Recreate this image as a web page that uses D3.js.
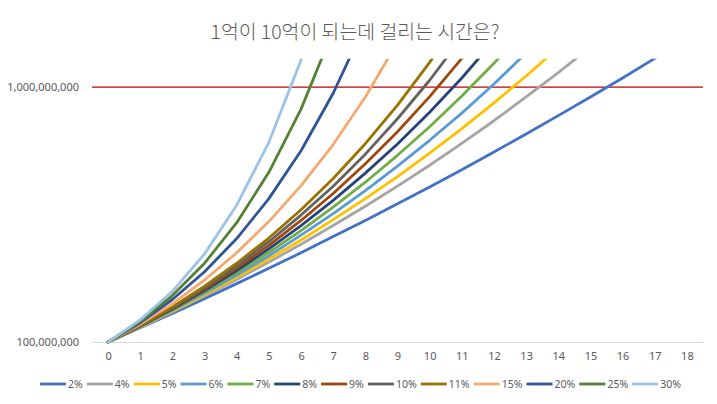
<!DOCTYPE html>
<html><head><meta charset="utf-8">
<script src="https://cdn.jsdelivr.net/npm/d3@7"></script>
<style>
html,body{margin:0;padding:0;background:#fff;}
svg{display:block;}
</style></head>
<body><svg id="chart" width="717" height="404"></svg>
<script>
// ---- data (values in millions of won) ----
const title = "1억이 10억이 되는데 걸리는 시간은?";
const years = [0,1,2,3,4,5,6,7,8,9,10,11,12,13,14,15,16,17,18];
const seriesNames = ["2%","4%","5%","6%","7%","8%","9%","10%","11%","15%","20%","25%","30%"];
const seriesColors = ["#4472C4","#A5A5A5","#FFC000","#5B9BD5","#70AD47","#264478","#9E480E","#636363","#997300","#F4A872","#2F5597","#548235","#9DC3E6"];
const s2  = [100,150,201,253,306,360,415,472,529,588,647,708,771,834,899,965,1032,1101,1171];
const s4  = [100,152,206,262,321,382,445,511,579,650,724,801,881,965,1051,1141,1235];
const s5  = [100,153,209,267,328,393,460,532,606,684,767,853,944,1039,1139,1244];
const s6  = [100,154,211,272,336,404,477,553,634,721,812,908,1011,1120,1235];
const s7  = [100,155,214,277,344,416,493,576,664,759,860,968,1084,1208];
const s8  = [100,156,216,282,352,429,511,600,696,799,911,1032,1163];
const s9  = [100,157,219,287,361,441,529,624,729,842,966,1101,1248];
const s10 = [100,158,222,292,369,454,548,650,763,888,1024,1175];
const s11 = [100,159,224,297,378,467,567,677,800,936,1087,1254];
const s15 = [100,163,235,319,415,525,652,797,965,1158];
const s20 = [100,168,250,348,465,606,775,978,1222];
const s25 = [100,173,264,378,521,699,922,1200];
const s30 = [100,178,279,411,583,805,1095,1471];
const seriesValues = [s2,s4,s5,s6,s7,s8,s9,s10,s11,s15,s20,s25,s30];
const UNIT = 1e6;
const yDomain = [100000000, 1100000000];
const yTicks = [100000000, 1000000000];
const targetLine = 1000000000;

// ---- layout ----
const svg = d3.select("#chart");
const plot = {left:92, right:703, top:58.7, bottom:342};
const font = "'Noto Sans', 'Liberation Sans', sans-serif";
const textColor = "#595959";

const x = d3.scalePoint().domain(years).range([plot.left, plot.right]).padding(0.5);
const y = d3.scaleLinear().domain(yDomain).range([plot.bottom, plot.top]);

// title
svg.append("text").attr("x", 355).attr("y", 39).attr("text-anchor","middle")
  .attr("font-family","'Noto Sans CJK KR', 'Noto Sans', sans-serif").attr("font-size",19.4)
  .attr("font-weight",300)
  .attr("fill",textColor).text(title);

// y axis labels
const yAxis = d3.axisLeft(y).tickValues(yTicks).tickSize(0).tickPadding(13)
  .tickFormat(d3.format(","));
const yg = svg.append("g").attr("transform",`translate(${plot.left},0)`).call(yAxis);
yg.select(".domain").remove();
yg.selectAll("text").attr("font-family",font).attr("font-size",11).attr("fill",textColor);

// gridline at target (red)
svg.append("line").attr("x1",plot.left).attr("x2",plot.right)
  .attr("y1",y(targetLine)).attr("y2",y(targetLine))
  .attr("stroke","#C00000").attr("stroke-width",1.3);

// x axis
const xAxis = d3.axisBottom(x).tickSize(0).tickPadding(10);
const xg = svg.append("g").attr("transform",`translate(0,${plot.bottom})`).call(xAxis);
xg.select(".domain").attr("stroke","#D9D9D9").attr("stroke-width",1)
  .attr("d",`M${plot.left},0.5H${plot.right}`);
xg.selectAll("text").attr("font-family",font).attr("font-size",11).attr("fill",textColor);

// clip
svg.append("clipPath").attr("id","clip").append("rect")
  .attr("x",plot.left).attr("y",plot.top).attr("width",plot.right-plot.left)
  .attr("height",plot.bottom-plot.top+6);

const line = d3.line().x((d,i)=>x(years[i])).y(d=>y(d*UNIT));
const lg = svg.append("g").attr("clip-path","url(#clip)");
seriesValues.forEach((vals,k)=>{
  lg.append("path").datum(vals).attr("d",line).attr("fill","none")
    .attr("stroke",seriesColors[k]).attr("stroke-width",2.8)
    .attr("stroke-linejoin","round").attr("stroke-linecap","round");
});

// legend
const leg = svg.append("g");
const legY = 384;
const legLeft = 40, legRight = 681;
const groups = [], widths = [];
seriesNames.forEach((n,k)=>{
  const g = leg.append("g");
  g.append("line").attr("x1",0).attr("x2",26).attr("y1",0).attr("y2",0)
    .attr("stroke",seriesColors[k]).attr("stroke-width",2.8);
  const t = g.append("text").attr("x",28).attr("y",4).attr("font-family",font)
    .attr("font-size",10.5).attr("fill",textColor).text(n);
  groups.push(g);
  widths.push(28 + t.node().getComputedTextLength());
});
const gap = ((legRight - legLeft) - d3.sum(widths)) / (groups.length - 1);
let cx = legLeft;
groups.forEach((g,i)=>{
  g.attr("transform",`translate(${cx},${legY})`);
  cx += widths[i] + gap;
});
</script></body></html>
